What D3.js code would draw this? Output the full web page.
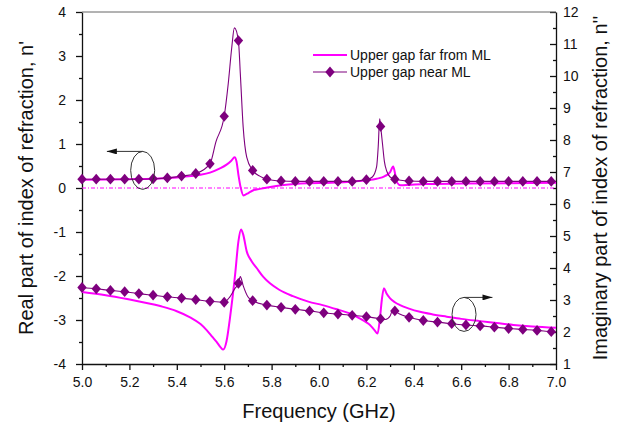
<!DOCTYPE html>
<html>
<head>
<meta charset="utf-8">
<script src="https://cdn.jsdelivr.net/npm/d3@7"></script>
<style>
body { margin: 0; background: #fff; }
text { font-family: "Liberation Sans", Arial, sans-serif; fill: #111; }
</style>
</head>
<body>
<svg id="chart"></svg>
<script>
const width = 617;
const height = 428;
const plotLeft = 82, plotRight = 556, plotTop = 12, plotBottom = 364;

const magenta = '#ff00ff';
const purple = '#7e007e';

// real part (left axis), upper gap far from ML
const reFarF = [5.00,5.20,5.30,5.40,5.46,5.50,5.54,5.58,5.61,5.63,5.644,5.652,5.66,5.67,5.681,5.69,5.70,5.723,5.75,5.80,5.85,5.95,6.05,6.15,6.20,6.243,6.278,6.30,6.313,6.322,6.33,6.345,6.38,6.45,6.60,7.00];
const reFarV = [0.19,0.20,0.21,0.24,0.27,0.30,0.35,0.44,0.53,0.62,0.70,0.60,0.30,0.0,-0.17,-0.15,-0.12,-0.05,-0.02,0.03,0.07,0.11,0.12,0.15,0.175,0.21,0.27,0.36,0.49,0.30,0.12,0.06,0.07,0.09,0.10,0.12];

// real part (left axis), upper gap near ML
const reNearF = [5.00,5.06,5.12,5.18,5.24,5.30,5.36,5.42,5.48,5.54,5.565,5.60,5.617,5.632,5.643,5.66,5.668,5.68,5.695,5.72,5.75,5.78,5.84,5.90,5.96,6.02,6.08,6.14,6.20,6.225,6.243,6.25,6.256,6.26,6.268,6.276,6.286,6.30,6.32,6.38,6.44,6.50,6.56,6.62,6.68,6.74,6.80,6.86,6.92,6.98,7.00];
const reNearV = [0.20,0.20,0.20,0.20,0.20,0.21,0.23,0.27,0.33,0.55,1.05,1.63,2.37,3.20,3.64,3.35,2.6,1.39,0.70,0.40,0.27,0.20,0.16,0.15,0.15,0.15,0.15,0.15,0.19,0.25,0.48,0.95,1.57,1.40,1.0,0.6,0.38,0.25,0.20,0.16,0.15,0.15,0.15,0.15,0.15,0.15,0.15,0.15,0.15,0.15,0.15];

// imaginary part (right axis), upper gap far from ML
const imFarF = [5.00,5.10,5.19,5.33,5.40,5.456,5.50,5.526,5.55,5.568,5.585,5.596,5.61,5.624,5.646,5.66,5.671,5.68,5.695,5.715,5.737,5.765,5.793,5.832,5.89,5.955,6.015,6.075,6.13,6.173,6.20,6.215,6.235,6.247,6.257,6.265,6.274,6.285,6.30,6.32,6.342,6.38,6.426,6.48,6.539,6.60,6.679,6.75,6.82,6.90,7.00];
const imFarV = [3.25,3.15,3.03,2.81,2.65,2.46,2.25,2.06,1.85,1.69,1.52,1.45,1.72,2.42,3.79,4.83,5.20,5.05,4.52,4.22,4.00,3.72,3.52,3.32,3.12,2.95,2.84,2.71,2.58,2.42,2.30,2.22,2.05,1.95,2.42,3.0,3.37,3.20,3.05,2.93,2.84,2.73,2.63,2.55,2.48,2.41,2.34,2.28,2.22,2.17,2.13];

// imaginary part (right axis), upper gap near ML
const imNearF = [5.00,5.06,5.12,5.18,5.24,5.30,5.36,5.42,5.48,5.54,5.60,5.624,5.646,5.66,5.668,5.68,5.70,5.72,5.78,5.84,5.90,5.96,6.02,6.08,6.14,6.20,6.26,6.28,6.30,6.312,6.32,6.34,6.38,6.44,6.50,6.56,6.62,6.68,6.74,6.80,6.86,6.92,6.98,7.00];
const imNearV = [3.39,3.35,3.30,3.26,3.20,3.15,3.10,3.06,3.01,2.96,2.93,3.10,3.37,3.52,3.73,3.45,3.10,2.98,2.84,2.77,2.71,2.66,2.60,2.56,2.52,2.48,2.41,2.39,2.50,2.71,2.66,2.56,2.46,2.36,2.31,2.26,2.22,2.19,2.15,2.11,2.08,2.05,2.01,2.00];

// diamond markers on the "near ML" curves
const markerF = [5.00,5.06,5.12,5.18,5.24,5.30,5.36,5.42,5.48,5.54,5.60,5.66,5.72,5.78,5.84,5.90,5.96,6.02,6.08,6.14,6.20,6.26,6.32,6.38,6.44,6.50,6.56,6.62,6.68,6.74,6.80,6.86,6.92,6.98];
const reNearM = [0.20,0.20,0.20,0.20,0.20,0.21,0.23,0.27,0.33,0.55,1.63,3.35,0.40,0.20,0.16,0.15,0.15,0.15,0.15,0.15,0.19,1.40,0.20,0.16,0.15,0.15,0.15,0.15,0.15,0.15,0.15,0.15,0.15,0.15];
const imNearM = [3.39,3.35,3.30,3.26,3.20,3.15,3.10,3.06,3.01,2.96,2.93,3.52,2.98,2.84,2.77,2.71,2.66,2.60,2.56,2.52,2.48,2.41,2.66,2.46,2.36,2.31,2.26,2.22,2.19,2.15,2.11,2.08,2.05,2.01];

// ticks
const xTicks = [5.0,5.2,5.4,5.6,5.8,6.0,6.2,6.4,6.6,6.8,7.0];
const xMinor = [5.1,5.3,5.5,5.7,5.9,6.1,6.3,6.5,6.7,6.9];
const reTicks = [-4,-3,-2,-1,0,1,2,3,4];
const reMinor = [-3.5,-2.5,-1.5,-0.5,0.5,1.5,2.5,3.5];
const imTicks = [1,2,3,4,5,6,7,8,9,10,11,12];
const imMinor = [1.5,2.5,3.5,4.5,5.5,6.5,7.5,8.5,9.5,10.5,11.5];

const svg = d3.select('#chart')
            .attr('width', width)
            .attr('height', height);

const x = d3.scaleLinear().domain([5, 7]).range([plotLeft, plotRight]);
const yRe = d3.scaleLinear().domain([-4, 4]).range([plotBottom, plotTop]);
const yIm = d3.scaleLinear().domain([1, 12]).range([plotBottom, plotTop]);

// axes
svg.append('g').attr('transform', `translate(0, ${plotBottom})`)
    .call(d3.axisBottom(x).tickValues(xTicks).tickFormat(d3.format('.1f'))
        .tickSizeInner(6).tickSizeOuter(0).tickPadding(7));
svg.append('g').attr('transform', `translate(0, ${plotBottom})`)
    .call(d3.axisBottom(x).tickValues(xMinor).tickFormat('').tickSize(3))
    .select('.domain').remove();

svg.append('g').attr('transform', `translate(${plotLeft}, 0)`)
    .call(d3.axisLeft(yRe).tickValues(reTicks).tickFormat(d => String(d))
        .tickSizeInner(6).tickSizeOuter(0).tickPadding(10));
svg.append('g').attr('transform', `translate(${plotLeft}, 0)`)
    .call(d3.axisLeft(yRe).tickValues(reMinor).tickFormat('').tickSize(3))
    .select('.domain').remove();

svg.append('g').attr('transform', `translate(${plotRight}, 0)`)
    .call(d3.axisRight(yIm).tickValues(imTicks).tickFormat(d => String(d))
        .tickSizeInner(-6).tickSizeOuter(0).tickPadding(7));
svg.append('g').attr('transform', `translate(${plotRight}, 0)`)
    .call(d3.axisRight(yIm).tickValues(imMinor).tickFormat('').tickSize(-3))
    .select('.domain').remove();

svg.selectAll('.tick text').style('font-size', '14px').attr('fill', '#111');
svg.selectAll('.domain, .tick line').attr('stroke', '#111').attr('stroke-width', 1.3);

// top frame line
svg.append('line')
    .attr('x1', plotLeft).attr('x2', plotRight)
    .attr('y1', plotTop).attr('y2', plotTop)
    .attr('stroke', '#666').attr('stroke-width', 1);

// zero reference line
svg.append('line')
    .attr('x1', x(5)).attr('x2', x(7))
    .attr('y1', yRe(0)).attr('y2', yRe(0))
    .attr('stroke', magenta).attr('stroke-width', 1)
    .attr('stroke-dasharray', '4,2,1,2');

const lineRe = d3.line().x(d => x(d[0])).y(d => yRe(d[1])).curve(d3.curveMonotoneX);
const lineIm = d3.line().x(d => x(d[0])).y(d => yIm(d[1])).curve(d3.curveMonotoneX);

svg.append('path').datum(d3.zip(reFarF, reFarV))
    .attr('fill', 'none').attr('stroke', magenta).attr('stroke-width', 2)
    .attr('d', lineRe);
svg.append('path').datum(d3.zip(imFarF, imFarV))
    .attr('fill', 'none').attr('stroke', magenta).attr('stroke-width', 2)
    .attr('d', lineIm);
svg.append('path').datum(d3.zip(reNearF, reNearV))
    .attr('fill', 'none').attr('stroke', purple).attr('stroke-width', 1.1)
    .attr('d', lineRe);
svg.append('path').datum(d3.zip(imNearF, imNearV))
    .attr('fill', 'none').attr('stroke', purple).attr('stroke-width', 1.1)
    .attr('d', lineIm);

// diamond marker
const diamond = {
    draw(ctx) {
        ctx.moveTo(0, -5.4);
        ctx.lineTo(4.7, 0);
        ctx.lineTo(0, 5.4);
        ctx.lineTo(-4.7, 0);
        ctx.closePath();
    }
};
const sym = d3.symbol().type(diamond);

svg.append('g').selectAll('path')
    .data(d3.zip(markerF, reNearM)).enter().append('path')
    .attr('transform', d => `translate(${x(d[0])}, ${yRe(d[1])})`)
    .attr('d', sym).attr('fill', purple);
svg.append('g').selectAll('path')
    .data(d3.zip(markerF, imNearM)).enter().append('path')
    .attr('transform', d => `translate(${x(d[0])}, ${yIm(d[1])})`)
    .attr('d', sym).attr('fill', purple);

// ellipses with arrows
const defs = svg.append('defs');
defs.append('marker').attr('id', 'arrow')
    .attr('viewBox', '0 0 10 6').attr('refX', 10).attr('refY', 3)
    .attr('markerWidth', 10).attr('markerHeight', 6).attr('markerUnits', 'userSpaceOnUse')
    .attr('orient', 'auto')
    .append('path').attr('d', 'M0,0L10,3L0,6Z').attr('fill', '#111');

const notes = [
    {cx: x(5.256), cy: yRe(0.40), tip: x(5.105), ry: 19},
    {cx: x(6.612), cy: yIm(2.55), tip: x(6.732), ry: 17}
];
notes.forEach(n => {
    svg.append('ellipse')
        .attr('cx', n.cx).attr('cy', n.cy).attr('rx', 12).attr('ry', n.ry)
        .attr('fill', 'none').attr('stroke', '#333').attr('stroke-width', 1);
    svg.append('line')
        .attr('x1', n.cx).attr('y1', n.cy - n.ry)
        .attr('x2', n.tip).attr('y2', n.cy - n.ry)
        .attr('stroke', '#333').attr('stroke-width', 1)
        .attr('marker-end', 'url(#arrow)');
});

// legend
const legend = svg.append('g');
legend.append('line')
    .attr('x1', 313).attr('x2', 347).attr('y1', 55).attr('y2', 55)
    .attr('stroke', magenta).attr('stroke-width', 2);
legend.append('text').attr('x', 350).attr('y', 60)
    .style('font-size', '14px').text('Upper gap far from ML');
legend.append('line')
    .attr('x1', 313).attr('x2', 347).attr('y1', 72).attr('y2', 72)
    .attr('stroke', purple).attr('stroke-width', 1.1);
legend.append('path').attr('transform', 'translate(330, 72)')
    .attr('d', sym).attr('fill', purple);
legend.append('text').attr('x', 350).attr('y', 77)
    .style('font-size', '14px').text('Upper gap near ML');

// axis titles
svg.append('text')
    .attr('x', (plotLeft + plotRight) / 2).attr('y', 418)
    .attr('text-anchor', 'middle').style('font-size', '20px')
    .text('Frequency (GHz)');
svg.append('text')
    .attr('transform', `translate(33, ${(plotTop + plotBottom) / 2}) rotate(-90)`)
    .attr('text-anchor', 'middle').style('font-size', '20px')
    .text("Real part of index of refraction, n'");
svg.append('text')
    .attr('transform', `translate(607, ${(plotTop + plotBottom) / 2}) rotate(-90)`)
    .attr('text-anchor', 'middle').style('font-size', '20px')
    .text("Imaginary part of index of refraction, n''");
</script>
</body>
</html>
